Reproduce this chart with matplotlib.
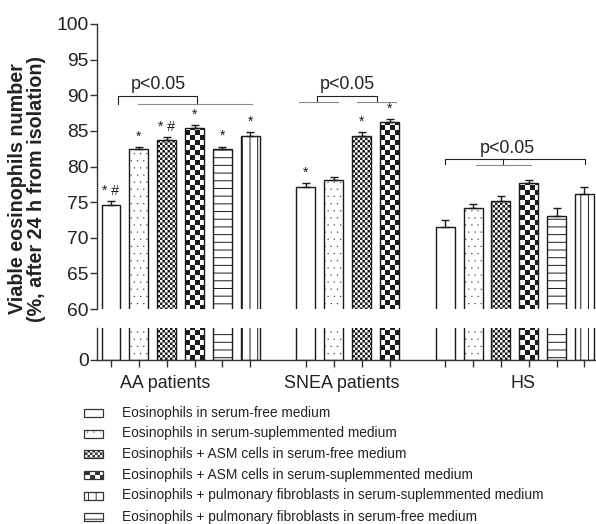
import numpy as np
import matplotlib
matplotlib.use("Agg")
import matplotlib.pyplot as plt
import matplotlib.hatch as mhatch
from matplotlib.path import Path
from matplotlib.patches import Rectangle
from matplotlib import transforms

# ---------------- data ----------------
groups = ["AA patients", "SNEA patients", "HS"]
series = [
    "Eosinophils in serum-free medium",
    "Eosinophils in serum-suplemmented medium",
    "Eosinophils + ASM cells in serum-free medium",
    "Eosinophils + ASM cells in serum-suplemmented medium",
    "Eosinophils + pulmonary fibroblasts in serum-free medium",
    "Eosinophils + pulmonary fibroblasts in serum-suplemmented medium",
]
aa_vals = [74.6, 82.4, 83.7, 85.4, 82.4, 84.3]
aa_err = [0.55, 0.3, 0.4, 0.4, 0.4, 0.5]
snea_vals = [77.1, 78.1, 84.35, 86.2]
snea_err = [0.6, 0.4, 0.45, 0.4]
hs_vals = [71.5, 74.2, 75.2, 77.7, 73.0, 76.2]
hs_err = [1.0, 0.5, 0.7, 0.35, 1.2, 0.95]
aa_marks = ["* #", "*", "* #", "*", "*", "*"]
snea_marks = ["*", "", "*", "*"]
hs_marks = ["", "", "", "", "", ""]
legend_order = [0, 1, 2, 3, 5, 4]
yticks_top = [60, 65, 70, 75, 80, 85, 90, 95, 100]

# ---------------- custom hatches ----------------
plt.rcParams["hatch.linewidth"] = 0.7
LW_U = 0.7 / 72.0


def _squares(vertices, codes, centers, side):
    h = side / 2.0
    for k, (cx, cy) in enumerate(centers):
        vertices[5 * k:5 * k + 5] = [(cx - h, cy - h), (cx + h, cy - h),
                                     (cx + h, cy + h), (cx - h, cy + h),
                                     (cx - h, cy - h)]
        codes[5 * k:5 * k + 5] = [Path.MOVETO, Path.LINETO, Path.LINETO,
                                  Path.LINETO, Path.CLOSEPOLY]


class HLines(mhatch.HatchPatternBase):
    n = 13

    def __init__(self, hatch, density):
        self.on = "-" in hatch
        self.num_vertices = 2 * self.n if self.on else 0

    def set_vertices_and_codes(self, vertices, codes):
        for k in range(self.n):
            y = (k + 0.5) / self.n
            vertices[2 * k] = (0.0, y)
            vertices[2 * k + 1] = (1.0, y)
            codes[2 * k] = Path.MOVETO
            codes[2 * k + 1] = Path.LINETO


class VLines(mhatch.HatchPatternBase):
    n = 13

    def __init__(self, hatch, density):
        self.on = "|" in hatch
        self.num_vertices = 2 * self.n if self.on else 0

    def set_vertices_and_codes(self, vertices, codes):
        for k in range(self.n):
            x = (k + 0.5) / self.n
            vertices[2 * k] = (x, 0.0)
            vertices[2 * k + 1] = (x, 1.0)
            codes[2 * k] = Path.MOVETO
            codes[2 * k + 1] = Path.LINETO


class Dots(mhatch.HatchPatternBase):
    nx, ny = 16, 14

    def __init__(self, hatch, density):
        self.on = "." in hatch
        self.centers = []
        if self.on:
            for j in range(self.ny):
                off = 0.5 if j % 2 else 0.0
                for i in range(self.nx):
                    self.centers.append(((i + 0.5 + off) / self.nx % 1.0,
                                         (j + 0.5) / self.ny))
        self.num_vertices = 5 * len(self.centers)

    def set_vertices_and_codes(self, vertices, codes):
        _squares(vertices, codes, self.centers, 0.002)


class Checker(mhatch.HatchPatternBase):
    char = "o"
    n = 40

    def __init__(self, hatch, density):
        self.on = self.char in hatch
        self.centers = []
        if self.on:
            for i in range(self.n):
                for j in range(self.n):
                    if (i + j) % 2 == 0:
                        self.centers.append(((i + 0.5) / self.n,
                                             (j + 0.5) / self.n))
        self.num_vertices = 5 * len(self.centers)

    def set_vertices_and_codes(self, vertices, codes):
        _squares(vertices, codes, self.centers, 1.0 / self.n - LW_U)


class BigChecker(Checker):
    char = "O"
    n = 20


mhatch._hatch_types[:] = [HLines, VLines, Dots, Checker, BigChecker]

hatches = ["", "...", "o", "O", "-", "|"]

# ---------------- figure ----------------
W, H = 596, 524
fig = plt.figure(figsize=(W / 100, H / 100), dpi=100)
plt.rcParams["font.family"] = ["Liberation Sans", "DejaVu Sans"]

pitch = 27.85
x0px = 111.0
xl = ((97 - x0px) / pitch, (596 - x0px) / pitch)

ax_top = fig.add_axes([97 / W, 1 - 309 / H, (596 - 97) / W, (309 - 24) / H])
ax_bot = fig.add_axes([97 / W, 1 - 360 / H, (596 - 97) / W, (360 - 328) / H])

group_start = [0, 7, 12]
group_vals = [aa_vals, snea_vals, hs_vals]
group_err = [aa_err, snea_err, hs_err]
group_marks = [aa_marks, snea_marks, hs_marks]
width = 0.68
ink = "#1a1a1a"
all_pos = []

for g, (start, vals, errs, marks) in enumerate(zip(group_start, group_vals,
                                                   group_err, group_marks)):
    pos = np.arange(len(vals)) + start
    all_pos.extend(pos)
    for ax in (ax_top, ax_bot):
        for i, (p, v) in enumerate(zip(pos, vals)):
            ax.bar(p, v, width=width, color="white", edgecolor=ink,
                   linewidth=1.0, hatch=hatches[i] or None)
    ax_top.errorbar(pos, vals, yerr=[np.zeros(len(errs)), errs], fmt="none",
                    ecolor=ink, elinewidth=1.0, capsize=2.8, capthick=1.0)
    for p, v, e, m in zip(pos, vals, errs, marks):
        if m:
            ax_top.annotate(m, (p, v + e), xytext=(0, 2.5),
                            textcoords="offset points", ha="center",
                            va="bottom", fontsize=10, color=ink)

for ax in (ax_top, ax_bot):
    ax.set_xlim(*xl)
    ax.spines["top"].set_visible(False)
    ax.spines["right"].set_visible(False)
    ax.spines["left"].set_color("#333333")
    ax.spines["bottom"].set_color("#333333")
    ax.spines["left"].set_linewidth(1.0)
    ax.spines["bottom"].set_linewidth(1.0)
    ax.tick_params(axis="y", length=5, width=1.0, color="#333333",
                   labelsize=13.9, labelcolor="#222222", pad=1)
    ax.patch.set_alpha(0)

ax_top.set_ylim(60, 100)
ax_top.set_yticks(yticks_top)
ax_top.spines["bottom"].set_visible(False)
ax_top.set_xticks([])

ax_bot.set_ylim(0, 10)
ax_bot.set_yticks([0])
ax_bot.set_xticks(all_pos)
ax_bot.set_xticklabels([])
ax_bot.tick_params(axis="x", length=5, width=1.0, color="#333333")

# group labels
tr = transforms.blended_transform_factory(ax_bot.transData, fig.transFigure)
label_x = [1.94, 8.28, 14.8]
for name, lx in zip(groups, label_x):
    ax_bot.text(lx, 1 - 384 / H, name, transform=tr, ha="center",
                va="center", fontsize=12.9, color="#222222")

# y label
fig.text(27 / W, 1 - 189 / H,
         "Viable eosinophils number\n(%, after 24 h from isolation)",
         rotation=90, ha="center", va="center", fontsize=14.2,
         fontweight="bold", color="#222222", linespacing=1.05,
         multialignment="center")


# significance brackets
def px2v(ypx):
    return 60 + (309.3 - ypx) / 7.13


def px2x(xpx):
    return (xpx - x0px) / pitch


blk = dict(color="#222222", lw=0.8, clip_on=False)
gry = dict(color="#8c8c8c", lw=0.8, clip_on=False)
# AA
yA, yA2 = px2v(96), px2v(104)
ax_top.plot([px2x(118.3)] * 2 + [px2x(196.7)] * 2, [yA2, yA, yA, yA2], **blk)
ax_top.plot([px2x(137.7), px2x(251.7)], [yA2, yA2], **gry)
ax_top.text(px2x(158.3), yA + 0.35, "p<0.05", ha="center", va="bottom",
            fontsize=12.9, color="#222222")
# SNEA
yS, yS2 = px2v(96), px2v(102)
ax_top.plot([px2x(317)] * 2 + [px2x(377)] * 2, [yS2, yS, yS, yS2], **blk)
ax_top.plot([px2x(299), px2x(338)], [yS2, yS2], **gry)
ax_top.plot([px2x(357), px2x(396)], [yS2, yS2], **gry)
ax_top.text(px2x(347), yS + 0.35, "p<0.05", ha="center", va="bottom",
            fontsize=12.9, color="#222222")
# HS
yH, yH2, yH3 = px2v(159.3), px2v(164), px2v(165.3)
ax_top.plot([px2x(445)] * 2 + [px2x(585)] * 2, [yH2, yH, yH, yH2], **blk)
ax_top.plot([px2x(503)] * 2, [yH, yH3], **blk)
ax_top.plot([px2x(476), px2x(531)], [yH3, yH3], **gry)
ax_top.text(px2x(507), yH + 0.35, "p<0.05", ha="center", va="bottom",
            fontsize=12.9, color="#222222")

# legend
row_y = [413, 433.5, 454, 474.5, 495.5, 517]
for r, idx in enumerate(legend_order):
    yc = row_y[r]
    fig.add_artist(Rectangle((84 / W, 1 - (yc + 4) / H), 19 / W, 8 / H,
                             transform=fig.transFigure, facecolor="white",
                             edgecolor="#333333", linewidth=0.9,
                             hatch=hatches[idx] or None))
    fig.text(122 / W, 1 - yc / H, series[idx], ha="left", va="center",
             fontsize=9.9, color="#222222")

fig.savefig("out.png", dpi=100)
